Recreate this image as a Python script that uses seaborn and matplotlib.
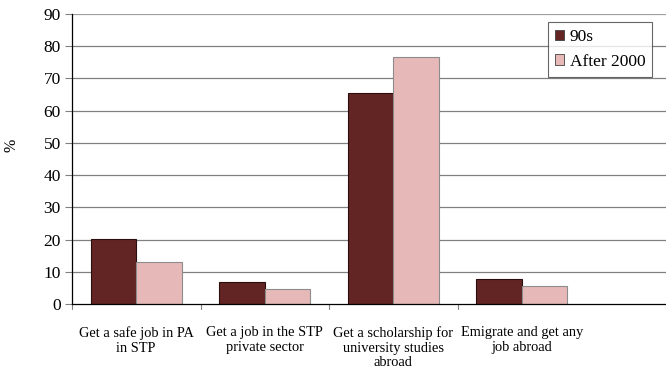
import matplotlib
matplotlib.use("Agg")
import matplotlib.pyplot as plt
import seaborn as sns
import pandas as pd

categories = [
    "Get a safe job in PA\nin STP",
    "Get a job in the STP\nprivate sector",
    "Get a scholarship for\nuniversity studies\nabroad",
    "Emigrate and get any\njob abroad",
]
series_names = ["90s", "After 2000"]
values_90s = [20.1, 6.8, 65.4, 7.9]
values_after_2000 = [12.9, 4.6, 76.6, 5.6]
y_ticks = [0, 10, 20, 30, 40, 50, 60, 70, 80, 90]

df = pd.DataFrame({
    "category": categories * 2,
    "period": [series_names[0]] * 4 + [series_names[1]] * 4,
    "value": values_90s + values_after_2000,
})

sns.set_theme(style="white")
plt.rcParams["font.family"] = ["Liberation Serif", "DejaVu Serif"]
plt.rcParams["text.color"] = "black"
plt.rcParams["xtick.color"] = "black"
plt.rcParams["ytick.color"] = "black"
plt.rcParams["axes.labelcolor"] = "black"

fig = plt.figure(figsize=(6.66, 3.78), dpi=100)
ax = fig.add_axes([72 / 666, 1 - 304 / 378, 1 - 72 / 666, 290 / 378])

palette = {"90s": "#632523", "After 2000": "#e6b9b8"}
sns.barplot(data=df, x="category", y="value", hue="period", order=categories,
            hue_order=series_names, palette=palette, width=0.71, saturation=1,
            ax=ax, legend=True, zorder=3)

for patch, ec in zip(ax.patches, ["#2a0f0e"] * 4 + ["#8c8c8c"] * 4):
    patch.set_edgecolor(ec)
    patch.set_linewidth(0.8)

ax.set_ylim(0, 90)
ax.set_xlim(-0.5, -0.5 + (666 - 72) / 128.5)
ax.set_yticks(y_ticks)
ax.set_yticklabels([str(t) for t in y_ticks], fontsize=12.5)
for t in y_ticks[1:]:
    ax.axhline(t, color="#a0a0a0" if t == 90 else "#808080", lw=0.9, zorder=1)

ax.set_xticks(range(len(categories)))
ax.set_xticklabels(categories, fontsize=10.4, linespacing=1.15)
ax.tick_params(axis="x", length=0, pad=16)
ax.tick_params(axis="y", length=5, width=0.8, color="#808080", pad=3, left=True)
for b in [-0.5, 0.5, 1.5, 2.5]:
    ax.plot([b, b], [0, -1.5], color="#808080", lw=0.8, clip_on=False, zorder=4)

ax.set_xlabel("")
ax.set_ylabel("%", fontsize=11.5)
ax.yaxis.set_label_coords((20 - 72) / 594, (304 - 145) / 290)

for side in ["top", "right"]:
    ax.spines[side].set_visible(False)
for side in ["left", "bottom"]:
    ax.spines[side].set_color("black")
    ax.spines[side].set_linewidth(0.9)
    ax.spines[side].set_zorder(5)

leg = ax.legend(loc="upper left", bbox_to_anchor=((548 - 72) / 594, 1 - 8 / 290),
                frameon=True, fancybox=False, fontsize=12.5, handlelength=0.55,
                handleheight=0.55, handletextpad=0.3, borderpad=0.4,
                labelspacing=0.5, borderaxespad=0)
leg.get_frame().set_edgecolor("#404040")
leg.get_frame().set_linewidth(0.8)
for h in leg.legend_handles:
    h.set_edgecolor("#404040")
    h.set_linewidth(0.6)

fig.savefig("out.png", dpi=100)
